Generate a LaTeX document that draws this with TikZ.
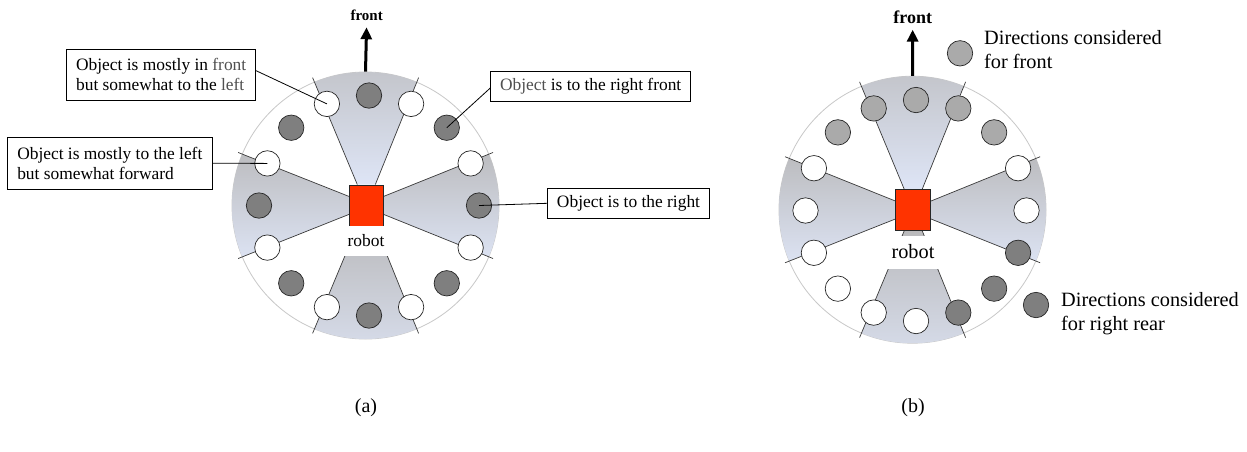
\documentclass[tikz,border=0pt]{standalone}
\usepackage{fontspec}
\setmainfont{Liberation Serif}
\usetikzlibrary{calc,arrows.meta}
\definecolor{dkc}{HTML}{7F7F7F}
\definecolor{ltc}{HTML}{AAAAAA}
\definecolor{rimc}{HTML}{C8C8C8}
\definecolor{wtop}{HTML}{BABABC}
\definecolor{wbot}{HTML}{DEE5F6}
\definecolor{robc}{HTML}{FF3300}
\definecolor{edgec}{HTML}{3A3A3A}
\definecolor{softc}{HTML}{505050}
\newcommand{\fsA}{\fontsize{17.4}{20}\selectfont}
\newcommand{\fsB}{\fontsize{20.3}{24}\selectfont}
\newcommand{\fsCap}{\fontsize{20}{24}\selectfont}
% #1 center, #2 visual direction, #3 apex for dir+22.5, #4 apex for dir-22.5, #5 prefix
\newcommand{\drawwedge}[5]{%
  \coordinate (#5p) at ($(#1)+({-(#2)-22.5}:155)$);
  \coordinate (#5m) at ($(#1)+({-(#2)+22.5}:155)$);
  \coordinate (#5c) at ($(#1)+({-(#2)}:175)$);
  \begin{scope}
    \clip (#1) circle (133.5);
    \shade[top color=wtop,bottom color=wbot] (#3) -- (#5p) -- (#5c) -- (#5m) -- (#4) -- cycle;
  \end{scope}
  \draw[wedgeline] (#3) -- ($(#3)!0.875!(#5p)$);
  \draw[wedgeline] (#4) -- ($(#4)!0.875!(#5m)$);
}
\begin{document}
\begin{tikzpicture}[x=1pt,y=-1pt,
  dot/.style={circle,minimum size=25.4pt,inner sep=0pt,draw=black!85,line width=0.7pt},
  dk/.style={dot,fill=dkc},
  wt/.style={dot,fill=white},
  lt/.style={dot,fill=ltc},
  rim/.style={circle,minimum size=267pt,inner sep=0pt,draw=rimc,line width=0.8pt,fill=white},
  robotbox/.style={draw=black!85,fill=robc,minimum width=34pt,minimum height=41pt,inner sep=0pt,line width=0.7pt},
  wedgeline/.style={draw=edgec,line width=0.7pt},
  rlabel/.style={fill=white,inner sep=0pt,minimum width=60pt},
  obox/.style={draw=black,line width=0.8pt,fill=white,align=left,inner sep=0pt,font=\fsA},
  conn/.style={draw=black,line width=0.8pt},
  frontarrow/.style={line width=3pt,-{Triangle[width=11pt,length=12pt]},shorten >=6pt},
  frontlabel/.style={inner sep=0pt,font=\bfseries},
  legtext/.style={anchor=west,inner sep=0pt,align=left,font=\fsB}
]
\useasboundingbox (0,0) rectangle (1247,451);

% ================= (a) =================
\node[rim] (rimA) at (365.5,205.5) {};
\coordinate (ringA) at (369,205.5);
\node[robotbox,minimum width=34pt] (robA) at (366.3,205.4) {};
\drawwedge{rimA.center}{90}{[xshift=-9pt]robA.north}{[xshift=9pt]robA.north}{wAn}
\drawwedge{rimA.center}{180}{[yshift=-9pt]robA.west}{[yshift=9pt]robA.west}{wAw}
\drawwedge{rimA.center}{0}{[yshift=9pt]robA.east}{[yshift=-9pt]robA.east}{wAe}
\drawwedge{rimA.center}{270}{[xshift=9pt]robA.south}{[xshift=-9pt]robA.south}{wAs}
\node[robotbox] (robA2) at (robA) {};
\node[rlabel,minimum height=30pt,font=\fsA] (labA) at (366,241) {robot};
\foreach \i in {0,...,15}{
  \pgfmathtruncatemacro{\r}{mod(\i,2)}
  \ifnum\r=0
    \node[dk] (a-\i) at ($(ringA)+({-\i*22.5}:110)$) {};
  \else
    \node[wt] (a-\i) at ($(ringA)+({-\i*22.5}:110)$) {};
  \fi
}
\node[obox,minimum width=189pt,minimum height=51pt] (box1) at (161.2,74.7)
  {Object is mostly in {\color{softc}front}\\but somewhat to the {\color{softc}left}};
\node[obox,minimum width=205pt,minimum height=52pt] (box2) at (109.8,163.2)
  {Object is mostly to the left\\but somewhat forward};
\node[obox,minimum width=200pt,minimum height=30pt] (box3) at (590.7,86)
  {{\color{softc}Object} is to the right front};
\node[obox,minimum width=162pt,minimum height=30pt] (box4) at (628.5,203.3)
  {Object is to the right};
\draw[conn] ([yshift=4pt]box1.east) -- (a-5.center);
\draw[conn] (box2.east) -- (a-7.center);
\draw[conn] ([yshift=-2pt]box3.west) -- (a-2.center);
\draw[conn] (box4.west) -- (a-0.center);
\node[frontlabel,font=\fontsize{15}{18}\selectfont\bfseries] (frA) at (366.7,15.7) {front};
\draw[frontarrow] (rimA.north) -- (frA.south);
\node[inner sep=0pt,font=\fsCap] (capA) at (366,408) {(a)};

% ================= (b) =================
\node[rim] (rimB) at (912.5,209.7) {};
\coordinate (ringB) at (916,210.5);
\node[robotbox,minimum width=35pt] (robB) at (913.2,210) {};
\drawwedge{rimB.center}{90}{[xshift=-9pt]robB.north}{[xshift=9pt]robB.north}{wBn}
\drawwedge{rimB.center}{180}{[yshift=-9pt]robB.west}{[yshift=9pt]robB.west}{wBw}
\drawwedge{rimB.center}{0}{[yshift=9pt]robB.east}{[yshift=-9pt]robB.east}{wBe}
\drawwedge{rimB.center}{270}{[xshift=9pt]robB.south}{[xshift=-9pt]robB.south}{wBs}
\node[robotbox,minimum width=35pt] (robB2) at (robB) {};
\node[rlabel,minimum height=33pt,font=\fsB] (labB) at (913,252) {robot};
\foreach \i/\s in {0/wt,1/wt,2/lt,3/lt,4/lt,5/lt,6/lt,7/wt,8/wt,9/wt,10/wt,11/wt,12/wt,13/dk,14/dk,15/dk}{
  \node[\s] (b-\i) at ($(ringB)+({-\i*22.5}:110.5)$) {};
}
\node[frontlabel,font=\fontsize{18}{20}\selectfont\bfseries] (frB) at (912.7,17) {front};
\draw[frontarrow] (rimB.north) -- (frB.south);
\node[lt] (lg1) at (960,53.3) {};
\node[legtext] (lt1) at (984,49.5) {Directions considered\\for front};
\node[dk] (lg2) at (1036,305) {};
\node[legtext] (lt2) at (1061,313.4) {Directions considered\\for right rear};
\node[inner sep=0pt,font=\fsCap] (capB) at (913,408) {(b)};
\end{tikzpicture}
\end{document}
